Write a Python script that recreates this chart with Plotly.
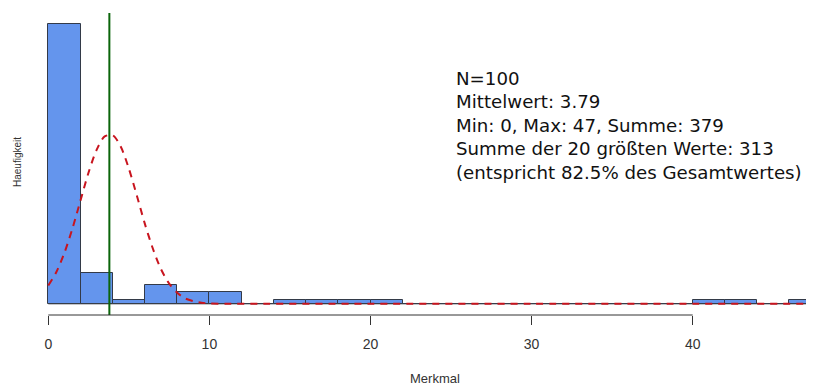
import plotly.graph_objects as go

# Histogram data (bin width 2)
bin_starts = [0, 2, 4, 6, 8, 10, 12, 14, 16, 18, 20, 22, 24, 26, 28, 30, 32, 34, 36, 38, 40, 42, 44, 46]
counts = [73, 8, 1, 5, 3, 3, 0, 1, 1, 1, 1, 0, 0, 0, 0, 0, 0, 0, 0, 0, 1, 1, 0, 1]
bin_width = 2

# Fitted normal curve (in counts)
curve_x = [0, 0.5, 1, 1.5, 2, 2.5, 3, 3.5, 4, 4.5, 5, 5.5, 6, 6.5, 7, 7.5, 8, 8.5, 9, 9.5, 10, 11, 12, 20, 30, 40, 48]
curve_y = [4.8, 8.3, 13.3, 19.7, 27.0, 34.3, 40.2, 43.7, 44.0, 41.0, 35.3, 28.2, 20.8, 14.3, 9.0, 5.3, 2.9, 1.4, 0.7, 0.3, 0.1, 0, 0, 0, 0, 0, 0]

mean_value = 3.79
x_ticks = [0, 10, 20, 30, 40]

stats_lines = [
    "N=100",
    "Mittelwert: 3.79",
    "Min: 0, Max: 47, Summe: 379",
    "Summe der 20 größten Werte: 313",
    "(entspricht 82.5% des Gesamtwertes)",
]

# page has an 8px body margin; figure is sized to fill the rest of the window
W, H = 806, 377
OFF = 8
T, B = 5, 70
PLOT_H = H - T - B
plot_bottom = H - B


def ypaper(ref_y):
    return (plot_bottom - (ref_y - OFF)) / PLOT_H


def xpaper(ref_x):
    return (ref_x - OFF) / W


centers = [s + bin_width / 2 for s in bin_starts]

fig = go.Figure()

# baseline where empty bins are
fig.add_trace(go.Scatter(
    x=[bin_starts[0], bin_starts[-1] + bin_width], y=[0, 0], mode="lines",
    line=dict(color="#3a3f4a", width=1), hoverinfo="skip", showlegend=False))

fig.add_trace(go.Bar(
    x=centers, y=counts, width=bin_width,
    marker=dict(color="#6495ED", line=dict(color="#333a48", width=1)),
    showlegend=False))

fig.add_trace(go.Scatter(
    x=curve_x, y=curve_y, mode="lines",
    line=dict(color="#c8141e", width=2, dash="7px,6px", shape="spline", smoothing=0.8),
    showlegend=False))

fig.add_shape(type="line", xref="x", yref="paper", x0=mean_value, x1=mean_value, y0=0, y1=1,
              line=dict(color="#0b650b", width=2))
fig.add_shape(type="line", xref="x", yref="paper", x0=x_ticks[0], x1=x_ticks[-1], y0=0, y1=0,
              line=dict(color="#333333", width=1))

line_centers = [76.5, 100.1, 123.7, 147.3, 170.9]
for txt, yc in zip(stats_lines, line_centers):
    fig.add_annotation(text=txt, xref="paper", yref="paper",
                       x=xpaper(455), y=ypaper(yc + 1.5), xanchor="left", yanchor="middle",
                       align="left", showarrow=False, borderpad=0,
                       font=dict(family="DejaVu Sans", size=18.2, color="#111111"))

fig.add_annotation(text="Merkmal", xref="x", yref="paper", x=24, y=ypaper(378),
                   xanchor="center", yanchor="middle", showarrow=False,
                   font=dict(family="Liberation Sans", size=13, color="#333333"))
fig.add_annotation(text="Haeufigkeit", xref="paper", yref="paper", x=xpaper(17), y=ypaper(162),
                   xanchor="center", yanchor="middle", textangle=-90, showarrow=False,
                   font=dict(family="Liberation Sans", size=10, color="#333333"))

x0_px = 48.3 - OFF
px_per_unit = 16.11
fig.update_layout(
    width=W, height=H,
    margin=dict(l=0, r=0, t=T, b=B),
    plot_bgcolor="white", paper_bgcolor="white",
    bargap=0,
    xaxis=dict(range=[-x0_px / px_per_unit, (W - x0_px) / px_per_unit],
               showgrid=False, zeroline=False, showline=False,
               tickvals=x_ticks, ticks="outside", ticklen=9, tickcolor="#333333",
               ticklabelstandoff=7,
               tickfont=dict(family="Liberation Sans", size=14, color="#333333")),
    yaxis=dict(range=[-2.92, 75.92], visible=False),
)

fig.write_html("out.html")
